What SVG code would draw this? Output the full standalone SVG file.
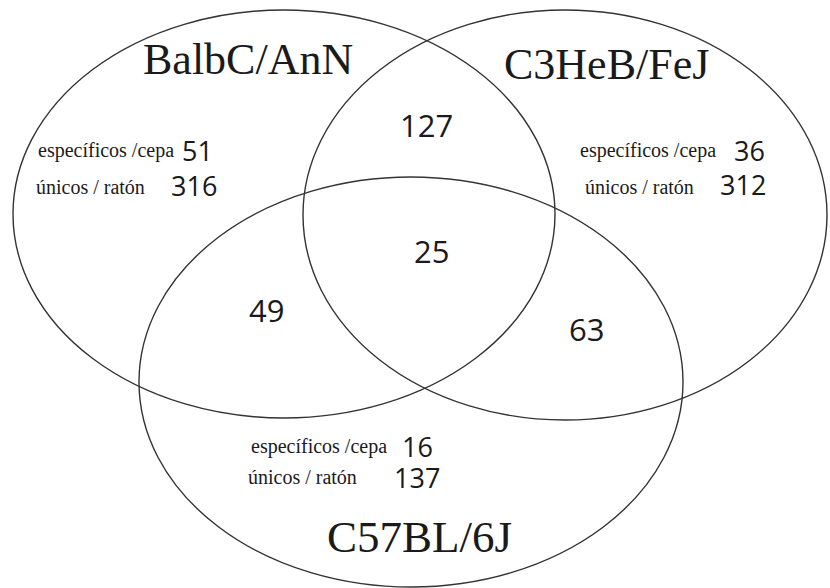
<svg xmlns="http://www.w3.org/2000/svg" width="830" height="588" viewBox="0 0 830 588">
<style>
.set{fill:none;stroke:#333;stroke-width:1.4}
.title{font-family:"Liberation Serif","Times New Roman",serif;font-size:44px;fill:#1a1a1a}
.lbl{font-family:"Liberation Serif","Times New Roman",serif;font-size:20px;fill:#1a1a1a}
.num{font-family:"Open Sans","Noto Sans",sans-serif;font-size:27px;fill:#1a1a1a}
.cnum{font-family:"Open Sans","Noto Sans",sans-serif;font-size:31px;fill:#1a1a1a}
</style>
<rect width="830" height="588" fill="#fff"/>
<g id="connectors"></g>
<g id="set-balbc">
<ellipse class="set" cx="284" cy="214" rx="271" ry="204"/>
<text class="title" x="143" y="74">BalbC/AnN</text>
<text class="lbl" x="38" y="157">específicos /cepa</text>
<text class="num" x="182" y="161">51</text>
<text class="lbl" x="36" y="194">únicos / ratón</text>
<text class="num" x="171" y="196">316</text>
</g>
<g id="set-c3heb">
<ellipse class="set" cx="565" cy="215" rx="262" ry="205"/>
<text class="title" x="504" y="79">C3HeB/FeJ</text>
<text class="lbl" x="580" y="157">específicos /cepa</text>
<text class="num" x="734" y="161">36</text>
<text class="lbl" x="585" y="194">únicos / ratón</text>
<text class="num" x="720" y="195">312</text>
</g>
<g id="set-c57bl">
<ellipse class="set" cx="411" cy="382" rx="272" ry="205"/>
<text class="title" x="327" y="552" style="font-size:45px">C57BL/6J</text>
<text class="lbl" x="251" y="453">específicos /cepa</text>
<text class="num" x="402" y="457">16</text>
<text class="lbl" x="248" y="484">únicos / ratón</text>
<text class="num" x="394" y="488">137</text>
</g>
<g id="overlap-balbc-c3heb"><text class="cnum" x="400" y="137">127</text></g>
<g id="overlap-all"><text class="cnum" x="414" y="263">25</text></g>
<g id="overlap-balbc-c57bl"><text class="cnum" x="249" y="322">49</text></g>
<g id="overlap-c3heb-c57bl"><text class="cnum" x="569" y="341">63</text></g>
</svg>
